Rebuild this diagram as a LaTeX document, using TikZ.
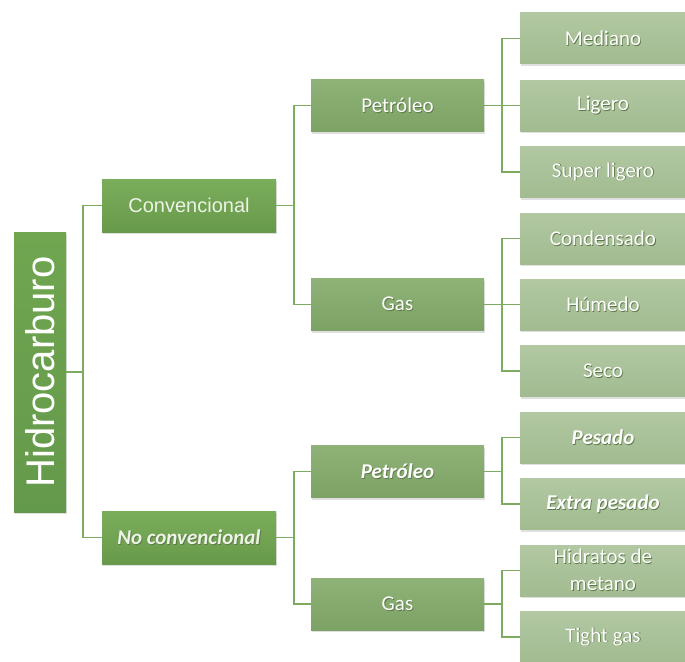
\documentclass[tikz,border=0pt]{standalone}
\usepackage{fontspec}
\setmainfont{Carlito}
\newfontfamily\arialf{Liberation Sans}
\usetikzlibrary{shadows}
\definecolor{ln}{HTML}{7DAC60}
\definecolor{r1}{HTML}{70A650}
\definecolor{r2}{HTML}{63994A}
\definecolor{a1}{HTML}{7BAE5B}
\definecolor{a2}{HTML}{67994A}
\definecolor{b1}{HTML}{8EB277}
\definecolor{b2}{HTML}{7DA265}
\definecolor{c1}{HTML}{B1C8A2}
\definecolor{c2}{HTML}{A2BB90}
\definecolor{txa}{HTML}{EDF3E6}
\definecolor{shc}{HTML}{5C7848}
\newcommand\tsh[1]{\leavevmode\rlap{\kern0.8pt\raisebox{-0.8pt}{\textcolor{shc}{#1}}}#1}
\tikzset{
  box/.style={draw=none, inner sep=0pt, align=center,
    drop shadow={opacity=0.25, shadow xshift=1pt, shadow yshift=-2pt}},
  rootbox/.style={box, minimum width=52pt, minimum height=280pt,
    top color=r1, bottom color=r2, text=white, font=\arialf\fontsize{40}{44}\selectfont},
  lvla/.style={box, minimum width=174pt, minimum height=53pt,
    top color=a1, bottom color=a2, text=txa, font=\fontsize{21}{24}\selectfont},
  lvlb/.style={box, minimum width=173pt, minimum height=52pt,
    top color=b1, bottom color=b2, text=white, font=\fontsize{21}{24}\selectfont},
  lvlc/.style={box, minimum width=166pt, minimum height=51pt,
    top color=c1, bottom color=c2, text=white, font=\fontsize{21}{27}\selectfont},
  conn/.style={draw=ln, line width=1.8pt},
}
\begin{document}
\begin{tikzpicture}[x=1pt,y=-1pt]
\useasboundingbox (0,0) rectangle (685,661);
% root
\node[rootbox] (root) at (40,372) {\rotatebox{90}{Hidrocarburo}};
% level 1
\node[lvla] (conv) at (189,205.5) {{\arialf\fontsize{20}{24}\selectfont Convencional}};
\node[lvla] (noconv) at (189,537.5) {\textbf{\textit{\tsh{No convencional}}}};
% level 2
\node[lvlb] (pet1) at (397.5,105.5) {\tsh{Petróleo}};
\node[lvlb] (gas1) at (397.5,304.5) {\tsh{Gas}};
\node[lvlb] (pet2) at (397.5,471.5) {\textbf{\textit{\tsh{Petróleo}}}};
\node[lvlb] (gas2) at (397.5,604) {\tsh{Gas}};
% level 3
\node[lvlc] (med) at (603,38.5) {\tsh{Mediano}};
\node[lvlc] (lig) at (603,105.5) {\tsh{Ligero}};
\node[lvlc] (sup) at (603,172) {\tsh{Super ligero}};
\node[lvlc] (con) at (603,238.5) {\tsh{Condensado}};
\node[lvlc] (hum) at (603,304.5) {\tsh{Húmedo}};
\node[lvlc] (sec) at (603,371) {\tsh{Seco}};
\node[lvlc] (pes) at (603,437.5) {\textbf{\textit{\tsh{Pesado}}}};
\node[lvlc] (ext) at (603,504) {\textbf{\textit{\tsh{Extra pesado}}}};
\node[lvlc] (hid) at (603,570.5) {\tsh{Hidratos de}\\\tsh{metano}};
\node[lvlc] (tig) at (603,637) {\tsh{Tight gas}};
% connectors
\foreach \p/\c in {root/conv, root/noconv}
  \draw[conn] (\p.east) -- ++(17,0) |- (\c.west);
\foreach \p/\c in {conv/pet1, conv/gas1, noconv/pet2, noconv/gas2}
  \draw[conn] (\p.east) -- ++(17.5,0) |- (\c.west);
\foreach \p/\c in {pet1/med, pet1/lig, pet1/sup, gas1/con, gas1/hum, gas1/sec, pet2/pes, pet2/ext, gas2/hid, gas2/tig}
  \draw[conn] (\p.east) -- ++(18,0) |- (\c.west);
\end{tikzpicture}
\end{document}
